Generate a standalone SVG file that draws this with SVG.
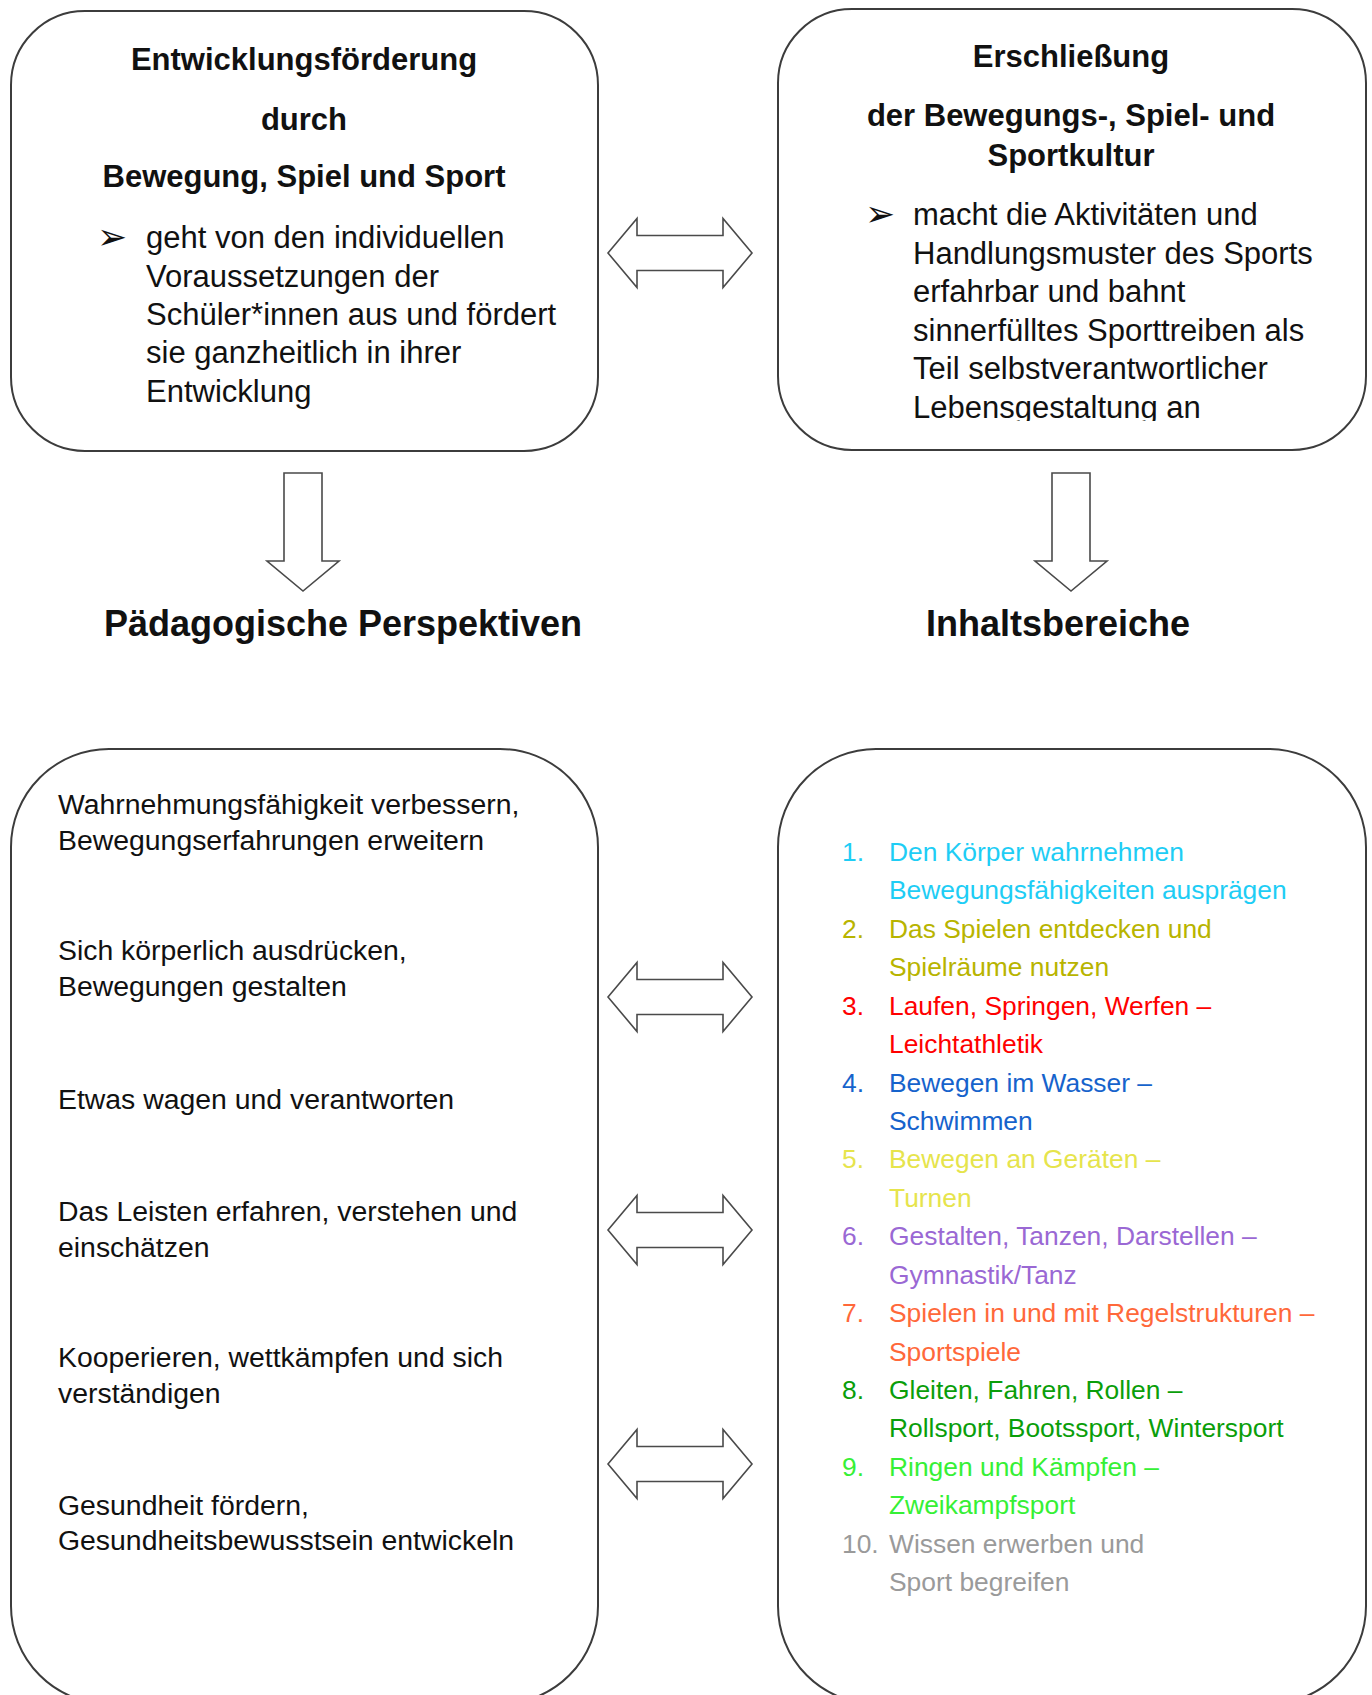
<svg xmlns="http://www.w3.org/2000/svg" width="1372" height="1695" viewBox="0 0 1372 1695">
<style>
.box{fill:#fff;stroke:#3c3c3c;stroke-width:2}
.arr{fill:#fff;stroke:#4a4a4a;stroke-width:1.6;stroke-linejoin:miter}
.t{font-family:"Liberation Sans",Arial,sans-serif;fill:#111}
.b{font-weight:bold}
.h{font-size:31px;font-weight:bold;text-anchor:middle}
.p{font-size:31px}
.big{font-size:36px;font-weight:bold;text-anchor:middle}
.s{font-size:28.4px}
.l{font-family:"Liberation Sans",Arial,sans-serif;font-size:26.4px}
.bul{font-family:"DejaVu Sans",sans-serif;font-size:36px;fill:#111}
</style>
<defs>
<clipPath id="clipR"><rect x="778" y="0" width="594" height="421"/></clipPath>
</defs>
<rect width="1372" height="1695" fill="#fff"/>

<g id="node-entwicklung">
<rect class="box" x="11" y="11" width="587" height="440" rx="74" ry="74"/>
<text class="t h" x="304" y="70">Entwicklungsförderung</text>
<text class="t h" x="304" y="130">durch</text>
<text class="t h" x="304" y="187">Bewegung, Spiel und Sport</text>
<text class="bul" x="97" y="249">➢</text>
<text class="t p" x="146" y="248">geht von den individuellen</text>
<text class="t p" x="146" y="287">Voraussetzungen der</text>
<text class="t p" x="146" y="325">Schüler*innen aus und fördert</text>
<text class="t p" x="146" y="363">sie ganzheitlich in ihrer</text>
<text class="t p" x="146" y="402">Entwicklung</text>
</g>

<g id="node-erschliessung">
<rect class="box" x="778" y="9" width="588" height="441" rx="74" ry="74"/>
<text class="t h" x="1071" y="67">Erschließung</text>
<text class="t h" x="1071" y="126">der Bewegungs-, Spiel- und</text>
<text class="t h" x="1071" y="166">Sportkultur</text>
<text class="bul" x="865" y="226">➢</text>
<g clip-path="url(#clipR)">
<text class="t p" x="913" y="225">macht die Aktivitäten und</text>
<text class="t p" x="913" y="264">Handlungsmuster des Sports</text>
<text class="t p" x="913" y="302">erfahrbar und bahnt</text>
<text class="t p" x="913" y="341">sinnerfülltes Sporttreiben als</text>
<text class="t p" x="913" y="379">Teil selbstverantwortlicher</text>
<text class="t p" x="913" y="418">Lebensgestaltung an</text>
</g>
</g>

<g id="label-perspektiven">
<text class="t big" x="343" y="636">Pädagogische Perspektiven</text>
</g>
<g id="label-inhaltsbereiche">
<text class="t big" x="1058" y="636">Inhaltsbereiche</text>
</g>

<g id="node-perspektiven">
<rect class="box" x="11" y="749" width="587" height="955" rx="98" ry="98"/>
<text class="t s" x="58" y="814">Wahrnehmungsfähigkeit verbessern,</text>
<text class="t s" x="58" y="850">Bewegungserfahrungen erweitern</text>
<text class="t s" x="58" y="960">Sich körperlich ausdrücken,</text>
<text class="t s" x="58" y="996">Bewegungen gestalten</text>
<text class="t s" x="58" y="1109">Etwas wagen und verantworten</text>
<text class="t s" x="58" y="1221">Das Leisten erfahren, verstehen und</text>
<text class="t s" x="58" y="1257">einschätzen</text>
<text class="t s" x="58" y="1367">Kooperieren, wettkämpfen und sich</text>
<text class="t s" x="58" y="1403">verständigen</text>
<text class="t s" x="58" y="1515">Gesundheit fördern,</text>
<text class="t s" x="58" y="1550">Gesundheitsbewusstsein entwickeln</text>
</g>

<g id="node-inhaltsbereiche">
<rect class="box" x="778" y="749" width="588" height="955" rx="98" ry="98"/>
<g class="l" fill="#1ECDF5">
<text x="842" y="861">1.</text><text x="889" y="861">Den Körper wahrnehmen</text>
<text x="889" y="899">Bewegungsfähigkeiten ausprägen</text>
</g>
<g class="l" fill="#B8B400">
<text x="842" y="938">2.</text><text x="889" y="938">Das Spielen entdecken und</text>
<text x="889" y="976">Spielräume nutzen</text>
</g>
<g class="l" fill="#FF0000">
<text x="842" y="1015">3.</text><text x="889" y="1015">Laufen, Springen, Werfen –</text>
<text x="889" y="1053">Leichtathletik</text>
</g>
<g class="l" fill="#1663CC">
<text x="842" y="1092">4.</text><text x="889" y="1092">Bewegen im Wasser –</text>
<text x="889" y="1130">Schwimmen</text>
</g>
<g class="l" fill="#E6E44C">
<text x="842" y="1168">5.</text><text x="889" y="1168">Bewegen an Geräten –</text>
<text x="889" y="1207">Turnen</text>
</g>
<g class="l" fill="#9A68D4">
<text x="842" y="1245">6.</text><text x="889" y="1245">Gestalten, Tanzen, Darstellen –</text>
<text x="889" y="1284">Gymnastik/Tanz</text>
</g>
<g class="l" fill="#FF683A">
<text x="842" y="1322">7.</text><text x="889" y="1322">Spielen in und mit Regelstrukturen –</text>
<text x="889" y="1361">Sportspiele</text>
</g>
<g class="l" fill="#0A9E0A">
<text x="842" y="1399">8.</text><text x="889" y="1399">Gleiten, Fahren, Rollen –</text>
<text x="889" y="1437">Rollsport, Bootssport, Wintersport</text>
</g>
<g class="l" fill="#36F036">
<text x="842" y="1476">9.</text><text x="889" y="1476">Ringen und Kämpfen –</text>
<text x="889" y="1514">Zweikampfsport</text>
</g>
<g class="l" fill="#9A9A9A">
<text x="842" y="1553">10.</text><text x="889" y="1553">Wissen erwerben und</text>
<text x="889" y="1591">Sport begreifen</text>
</g>
</g>

<g id="connectors">
<path class="arr" d="M608,253 L637,218.5 L637,235.5 L723,235.5 L723,218.5 L752,253 L723,287.5 L723,270.5 L637,270.5 L637,287.5 Z"/>
<path class="arr" d="M608,997 L637,962.5 L637,979.5 L723,979.5 L723,962.5 L752,997 L723,1031.5 L723,1014.5 L637,1014.5 L637,1031.5 Z"/>
<path class="arr" d="M608,1230 L637,1195.5 L637,1212.5 L723,1212.5 L723,1195.5 L752,1230 L723,1264.5 L723,1247.5 L637,1247.5 L637,1264.5 Z"/>
<path class="arr" d="M608,1464 L637,1429.5 L637,1446.5 L723,1446.5 L723,1429.5 L752,1464 L723,1498.5 L723,1481.5 L637,1481.5 L637,1498.5 Z"/>
<path class="arr" d="M284,473 L322,473 L322,561 L339,561 L303,591 L267,561 L284,561 Z"/>
<path class="arr" d="M1052,473 L1090,473 L1090,561 L1107,561 L1071,591 L1035,561 L1052,561 Z"/>
</g>
</svg>
